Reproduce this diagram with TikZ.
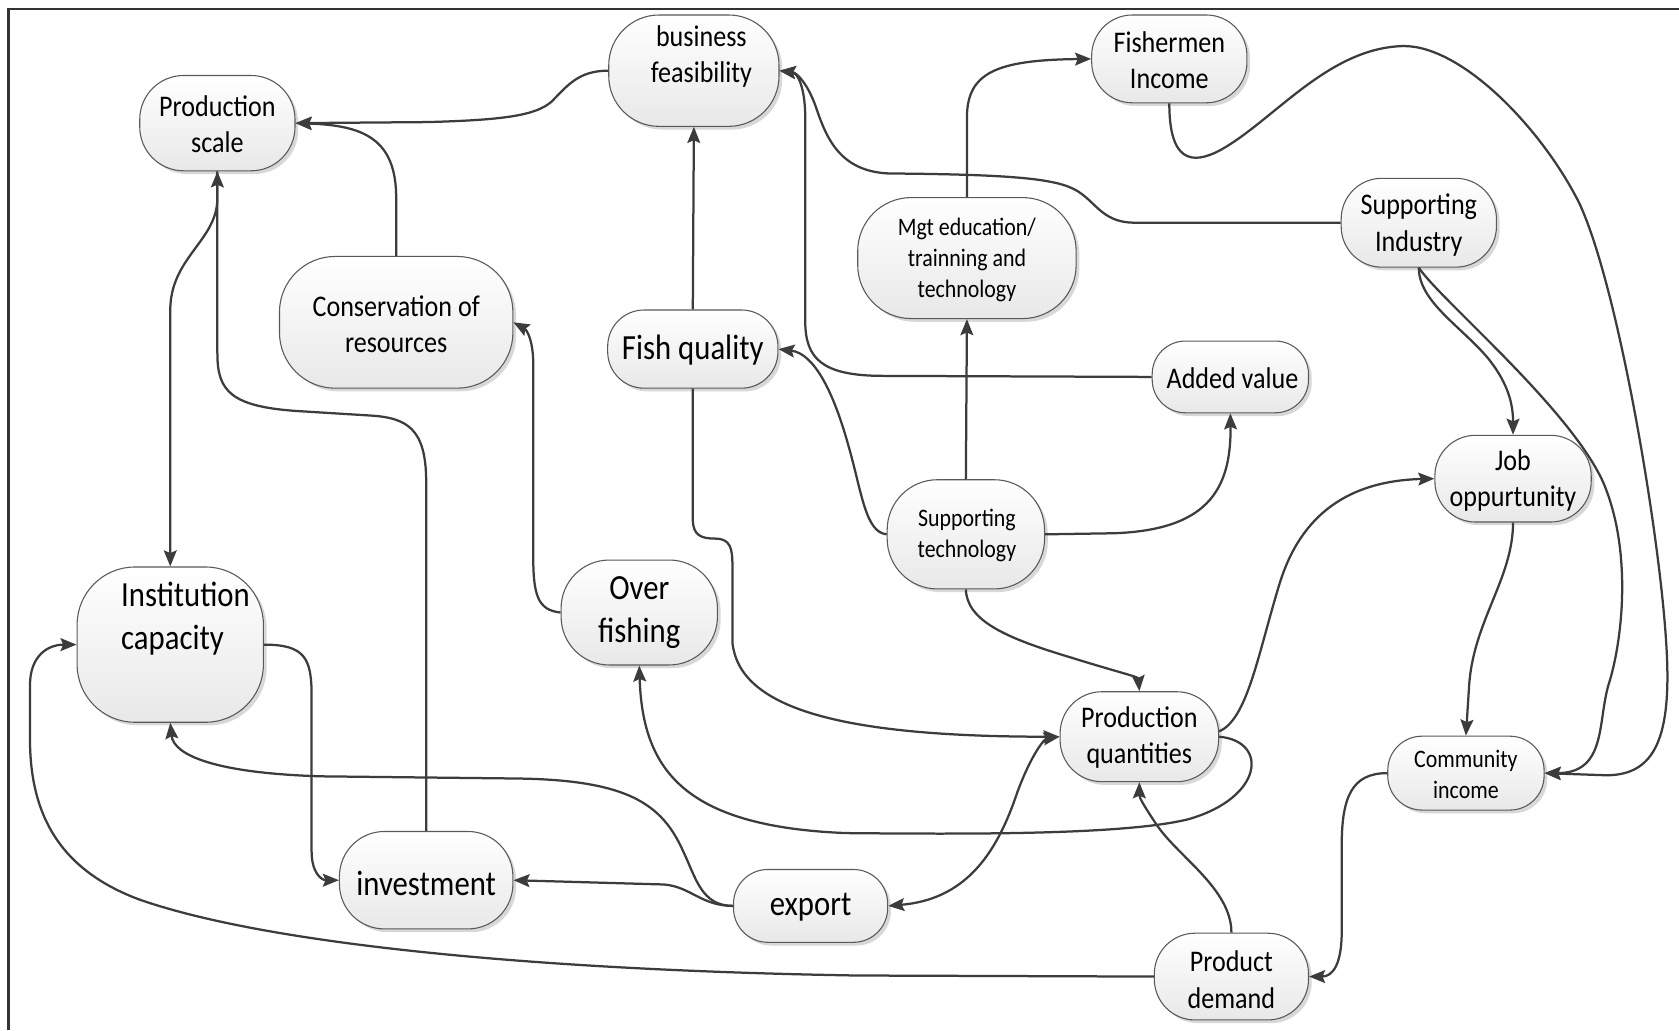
\documentclass[tikz,border=0pt]{standalone}
\usepackage{fontspec}
\setmainfont{Carlito}[FakeStretch=0.87]
\usetikzlibrary{arrows.meta,shadows}
\definecolor{ln}{HTML}{3C3C3C}
\newcommand\fsS{\fontsize{23.5}{29}\selectfont}
\newcommand\fsM{\fontsize{28}{34}\selectfont}
\newcommand\fsL{\fontsize{33}{40}\selectfont}
\tikzset{
  bx/.style={draw=ln!85, line width=1pt, top color=white, bottom color=black!9,
    drop shadow={shadow xshift=3pt,shadow yshift=-3pt,fill=black!30,opacity=0.5},
    inner sep=0pt},
  tx/.style={align=center, inner sep=0pt, text=black},
  ed/.style={draw=ln, line width=2.1pt},
  ar/.style={ed, -{Stealth[length=15pt,width=12pt,inset=2.5pt]}},
  dar/.style={ed, {Stealth[length=15pt,width=12pt,inset=2.5pt]}-{Stealth[length=15pt,width=12pt,inset=2.5pt]}}
}
\begin{document}
\begin{tikzpicture}[x=1pt,y=-1pt]
\useasboundingbox (0,0) rectangle (1568,962);
\fill[white] (0,0) rectangle (1568,962);
\draw[line width=2.2pt, draw=black!80] (1568,8.7) -- (8,8.7) -- (8,962);

% boxes
\node[bx, minimum width=145pt, minimum height=89pt, rounded corners=41pt] (ps) at (203,115) {};
\node[bx, minimum width=159pt, minimum height=104pt, rounded corners=47pt] (bf) at (648,66) {};
\node[bx, minimum width=145pt, minimum height=82pt, rounded corners=38pt] (fi) at (1092,55) {};
\node[bx, minimum width=145pt, minimum height=83pt, rounded corners=38pt] (si) at (1325,208) {};
\node[bx, minimum width=204pt, minimum height=113pt, rounded corners=50pt] (mgt) at (903,241) {};
\node[bx, minimum width=218pt, minimum height=123pt, rounded corners=52pt] (cons) at (370,301) {};
\node[bx, minimum width=159pt, minimum height=73pt, rounded corners=34pt] (fq) at (647,326) {};
\node[bx, minimum width=146pt, minimum height=67pt, rounded corners=31pt] (av) at (1149,352) {};
\node[bx, minimum width=146pt, minimum height=81pt, rounded corners=38pt] (jo) at (1413,447) {};
\node[bx, minimum width=147pt, minimum height=102pt, rounded corners=47pt] (st) at (902,499) {};
\node[bx, minimum width=174pt, minimum height=145pt, rounded corners=54pt] (ic) at (159,602) {};
\node[bx, minimum width=146pt, minimum height=98pt, rounded corners=45pt] (of) at (597,572) {};
\node[bx, minimum width=148pt, minimum height=84pt, rounded corners=39pt] (pq) at (1064,688) {};
\node[bx, minimum width=146pt, minimum height=69pt, rounded corners=32pt] (ci) at (1369,722) {};
\node[bx, minimum width=162pt, minimum height=91pt, rounded corners=42pt] (inv) at (398,822) {};
\node[bx, minimum width=144pt, minimum height=68pt, rounded corners=32pt] (ex) at (757,846) {};
\node[bx, minimum width=144pt, minimum height=81pt, rounded corners=38pt] (pd) at (1150,912) {};

% texts
\node[tx, font=\fsM] (pst) at (203,116) {Production\\scale};
\node[tx, font=\fsM] (bft) at (655,53) {business\\feasibility};
\node[tx, font=\fsM] (fit) at (1092,56) {Fishermen\\Income};
\node[tx, font=\fsM] (sit) at (1325,210) {Supporting\\Industry};
\node[tx, font=\fsS] (mgtt) at (903,243) {Mgt education/\\trainning and\\technology};
\node[tx, font=\fsM] (const) at (370,303) {Conservation of\\resources};
\node[tx, font=\fsL] (fqt) at (647,327) {Fish quality};
\node[tx, font=\fsM] (avt) at (1151,353) {Added value};
\node[tx, font=\fsM] (jot) at (1413,449) {Job\\oppurtunity};
\node[tx, font=\fsS] (stt) at (903,500) {Supporting\\technology};
\node[tx, font=\fsL, align=left, anchor=west] (ict) at (113,578) {Institution\\capacity};
\node[tx, font=\fsL] (oft) at (597,572) {Over\\fishing};
\node[tx, font=\fsM] (pqt) at (1064,689) {Production\\quantities};
\node[tx, font=\fsS] (cit) at (1369,723) {Community\\income};
\node[tx, font=\fsL] (invt) at (398,825) {investment};
\node[tx, font=\fsL] (ext) at (757,847) {export};
\node[tx, font=\fsM] (pdt) at (1150,915) {Product\\demand};

% connectors
\draw[ar] (bf.west) .. controls (540,66) and (530,80) .. (515,95) .. controls (500,108) and (470,112) .. (400,114) -- (ps.east);
\draw[ar] (cons.north) -- (370,185) .. controls (370,130) and (340,117) .. (ps.east);
\draw[ar] (ps.south) -- (203,185) .. controls (203,225) and (159,240) .. (159,290) -- (ic.north);
\draw[ar] (inv.north) -- (398,450) .. controls (398,400) and (380,390) .. (345,388) -- (280,384) .. controls (215,380) and (203,365) .. (203,330) -- (ps.south);
\draw[ar] (ic.east) .. controls (285,602) and (291,615) .. (291,650) -- (291,795) .. controls (291,815) and (300,822) .. (inv.west);
\draw[ar] (ex.west) .. controls (655,846) and (645,828) .. (620,826) -- (inv.east);
\draw[ar] (ex.west) .. controls (655,846) and (650,820) .. (638,795) .. controls (618,750) and (585,728) .. (480,727) -- (300,725) .. controls (200,722) and (162,705) .. (ic.south);
\draw[ar] (pd.west) -- (800,911) .. controls (500,906) and (250,882) .. (130,840) .. controls (55,812) and (28,760) .. (28,690) -- (28,640) .. controls (28,612) and (45,602) .. (ic.west);
\draw[ar] (pq.east) .. controls (1185,692) and (1180,745) .. (1110,765) .. controls (1050,780) and (900,779) .. (790,778) .. controls (640,772) and (600,720) .. (of.south);
\draw[ar] (of.west) .. controls (502,570) and (498,555) .. (498,520) -- (498,340) .. controls (498,318) and (492,308) .. (cons.east);
\draw[ar] (fq.north) -- (bf.south);
\draw[ar] (fq.south) -- (647,485) .. controls (647,500) and (655,503) .. (668,503) .. controls (682,503) and (684,512) .. (684,528) -- (684,600) .. controls (690,660) and (780,688) .. (pq.west);
\draw[ar] (st.west) .. controls (808,497) and (805,460) .. (792,415) .. controls (778,365) and (760,330) .. (fq.east);
\draw[ar] (st.north) -- (mgt.south);
\draw[ar] (mgt.north) -- (903,110) .. controls (903,68) and (930,56) .. (fi.west);
\draw[ar] (av.west) -- (820,351) .. controls (768,350) and (752,335) .. (752,300) -- (752,110) .. controls (752,82) and (745,68) .. (bf.east);
\draw[ar] (si.west) -- (1060,208) .. controls (1032,208) and (1025,192) .. (1010,181) .. controls (993,168) and (960,163) .. (830,162) .. controls (785,160) and (772,130) .. (762,100) .. controls (755,80) and (745,68) .. (bf.east);
\draw[ar] (st.east) -- (1040,498) .. controls (1125,495) and (1150,460) .. (av.south);
\draw[ar] (st.south) .. controls (903,580) and (940,596) .. (1000,614) .. controls (1045,628) and (1063,632) .. (pq.north);
\draw[ar] ([yshift=5pt]pq.east) .. controls (1165,672) and (1175,610) .. (1195,545) .. controls (1215,480) and (1260,449) .. (jo.west);
\draw[dar] (ex.east) .. controls (900,840) and (930,800) .. (950,740) .. controls (963,705) and (975,690) .. (pq.west);
\draw[ar] (pd.north) .. controls (1150,830) and (1100,800) .. (1080,770) .. controls (1068,752) and (1064,745) .. (pq.south);
\draw[ar] (jo.south) .. controls (1413,540) and (1376,580) .. (1372,640) -- (ci.north);
\draw[ar] (ci.west) .. controls (1262,722) and (1253,745) .. (1253,790) -- (1253,870) .. controls (1253,900) and (1245,912) .. (pd.east);
\draw[ar] (si.south) .. controls (1325,282) and (1365,305) .. (1390,335) .. controls (1410,360) and (1413,380) .. (jo.north);
\draw[ar] (si.south) .. controls (1345,280) and (1465,380) .. (1497,450) .. controls (1525,515) and (1515,600) .. (1502,640) .. controls (1492,675) and (1500,722) .. (ci.east);
\draw[ar] (fi.south) .. controls (1092,150) and (1112,155) .. (1140,140) .. controls (1190,112) and (1240,45) .. (1310,43) .. controls (1365,42) and (1440,120) .. (1475,190) .. controls (1512,270) and (1550,500) .. (1556,600) .. controls (1562,690) and (1545,724) .. (1500,724) -- (ci.east);
\end{tikzpicture}
\end{document}
